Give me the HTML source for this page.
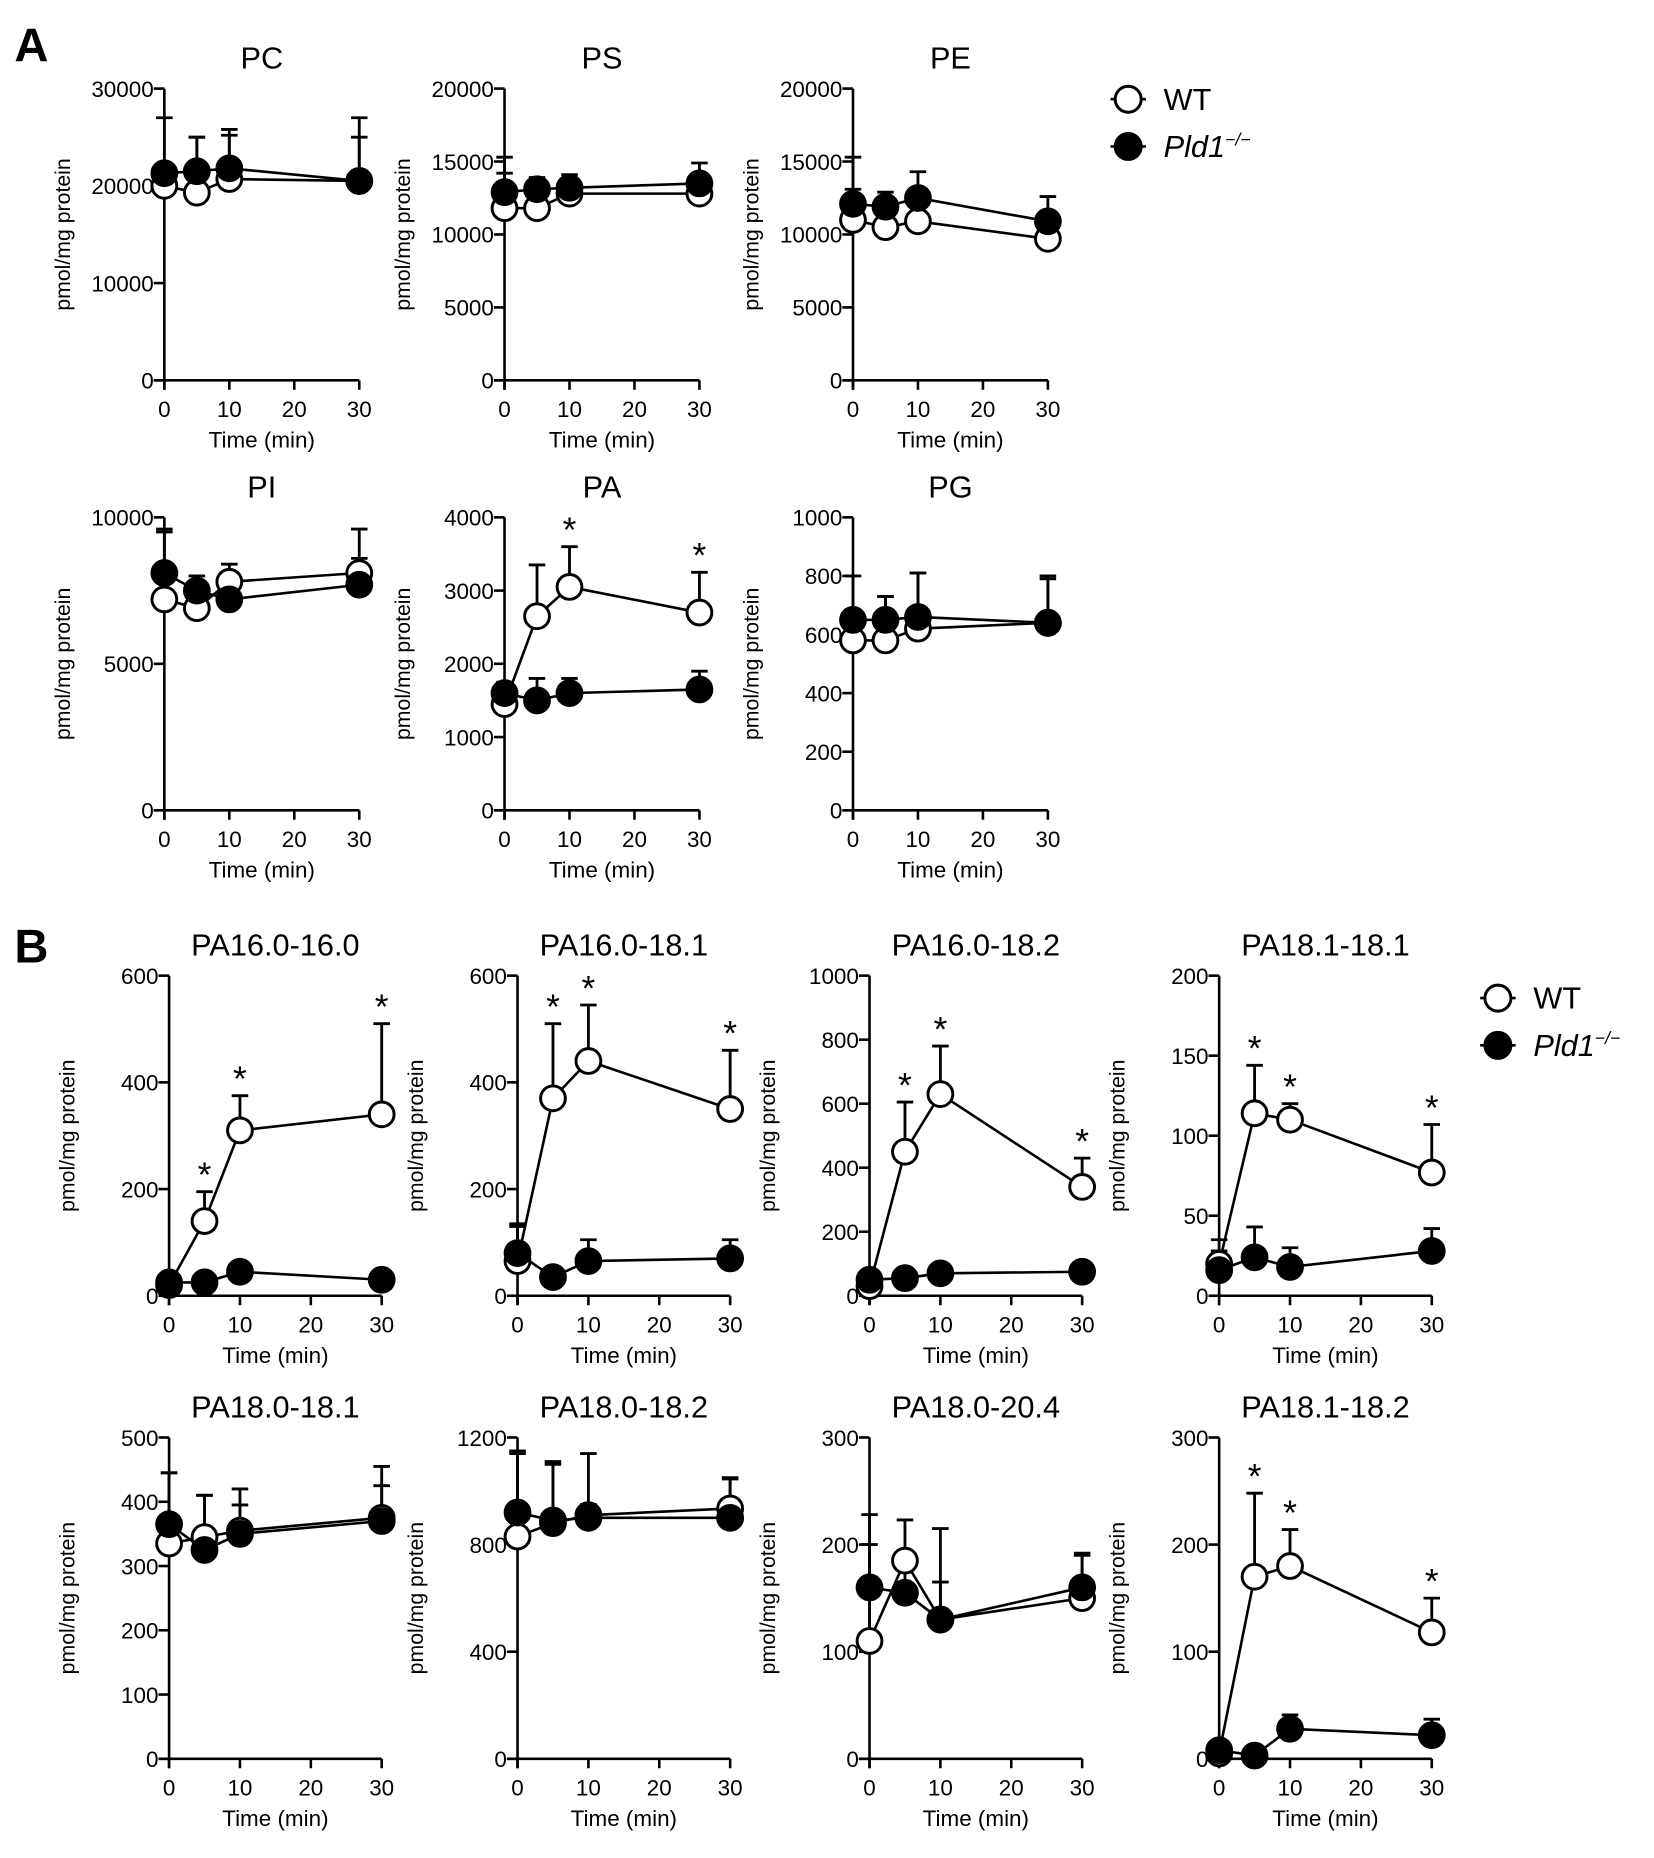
<!DOCTYPE html>
<html><head><meta charset="utf-8"><style>
html,body{margin:0;padding:0;background:#fff;}
svg{display:block;font-family:"Liberation Sans",Arial,sans-serif;}
</style></head><body>
<svg id="fig" width="1654" height="1858" viewBox="0 0 1400 1573" xmlns="http://www.w3.org/2000/svg">
<text x="12" y="52" font-size="40" font-weight="bold">A</text>
<text x="12" y="815" font-size="40" font-weight="bold">B</text>
</svg>
<script>
const times = [0, 5, 10, 30];
const titles = ["PC","PS","PE","PI","PA","PG","PA16.0-16.0","PA16.0-18.1","PA16.0-18.2","PA18.1-18.1","PA18.0-18.1","PA18.0-18.2","PA18.0-20.4","PA18.1-18.2"];
const yMaxes = [30000,20000,20000,10000,4000,1000,600,600,1000,200,500,1200,300,300];
const yStepsArr = [10000,5000,5000,5000,1000,200,200,200,200,50,100,400,100,100];
const wtVals = [
[20000,19300,20700,20500],[11800,11800,12800,12800],[11000,10500,10900,9700],
[7200,6900,7800,8100],[1450,2650,3050,2700],[580,580,620,640],
[20,140,310,340],[65,370,440,350],[30,450,630,340],[20,114,110,77],
[335,345,355,375],[830,880,910,935],[110,185,130,150],[5,170,180,118]];
const wtErr = [
[7000,5700,5100,6500],[3500,400,500,300],[4300,500,400,700],
[2300,600,600,1500],[300,700,550,550],[100,150,190,160],
[20,55,65,170],[70,140,105,110],[40,155,150,90],[15,30,10,30],
[110,65,65,80],[310,220,230,110],[118,38,85,40],[5,78,34,32]];
const koVals = [
[21300,21500,21800,20500],[12900,13100,13200,13500],[12100,11900,12500,10900],
[8100,7500,7200,7700],[1600,1500,1600,1650],[650,650,660,640],
[25,25,45,30],[80,35,65,70],[50,55,70,75],[16,24,18,28],
[365,325,350,370],[920,890,900,900],[160,155,130,160],[8,3,28,22]];
const koErr = [
[600,3500,3400,4500],[1300,800,900,1400],[1000,1000,1800,1700],
[1500,500,300,900],[100,300,200,250],[150,80,150,150],
[10,5,10,5],[50,15,40,35],[20,10,10,10],[12,19,12,14],
[80,85,45,55],[230,220,50,150],[40,30,35,32],[5,3,13,15]];
const stars = [[],[],[],[],[10,30],[],[5,10,30],[5,10,30],[5,10,30],[5,10,30],[],[],[],[5,10,30]];

const layout = [
 [139,322,75],[427,322,75],[722,322,75],
 [139,686,438],[427,686,438],[722,686,438],
 [143,1097,826],[438,1097,826],[736,1097,826],[1032,1097,826],
 [143,1489,1217],[438,1489,1217],[736,1489,1217],[1032,1489,1217]];
const PW = 165, PWB = 180;
const NS = "http://www.w3.org/2000/svg";
const svg = document.getElementById('fig');
function mk(tag, attrs, parent, text){
  const e = document.createElementNS(NS, tag);
  for (const k in attrs) e.setAttribute(k, attrs[k]);
  if (text !== undefined) e.textContent = text;
  (parent||svg).appendChild(e); return e;
}
titles.forEach((t, i) => {
  const [x0, y0, yt] = layout[i];
  const w = i < 6 ? PW : PWB;
  const xs = v => x0 + v / 30 * w;
  const ys = v => y0 - v / yMaxes[i] * (y0 - yt);
  const g = mk('g', {});
  
  
  const tt = mk('text', {x: x0 + w/2, y: yt - 17, 'font-size': 26, 'text-anchor': 'middle'}, g, t);
  
  
  const ax = mk('g', {stroke: '#000', 'stroke-width': 2.2, fill: 'none'}, g);
  
  
  mk('line', {x1: x0, y1: yt, x2: x0, y2: y0 + 8}, ax);
  mk('line', {x1: x0 - 9, y1: y0, x2: xs(30), y2: y0}, ax);
  for (let v = 0; v <= yMaxes[i] + 1e-9; v += yStepsArr[i]) {
    mk('line', {x1: x0 - 9, y1: ys(v), x2: x0, y2: ys(v)}, ax);
    const l = mk('text', {x: x0 - 9, y: ys(v) + 7, 'font-size': 19, 'text-anchor': 'end'}, g, String(v));
    
    
  }
  [0,10,20,30].forEach(v => {
    mk('line', {x1: xs(v), y1: y0, x2: xs(v), y2: y0 + 8}, ax);
    const l = mk('text', {x: xs(v), y: y0 + 31, 'font-size': 19, 'text-anchor': 'middle'}, g, String(v));
    
    
  });
  const xt = mk('text', {x: x0 + w/2, y: y0 + 57, 'font-size': 19, 'text-anchor': 'middle'}, g, 'Time (min)');
  
  
  const yl = mk('text', {x: 0, y: 0, 'font-size': 18, 'text-anchor': 'middle', transform: `translate(${x0-80},${(y0+yt)/2}) rotate(-90)`}, g, 'pmol/mg protein');
  
  
  const series = [[wtVals[i], wtErr[i], '#fff', 'wt'], [koVals[i], koErr[i], '#000', 'pld1']];
  series.forEach(([vals, errs, fill, nm]) => {
    const ln = mk('polyline', {points: vals.map((v, j) => xs(times[j]) + ',' + ys(v)).join(' '), fill: 'none', stroke: '#000', 'stroke-width': 2.2}, g);
    
    
  });
  series.forEach(([vals, errs, fill, nm]) => {
    vals.forEach((v, j) => {
      const x = xs(times[j]), top = ys(v + errs[j]);
      const e = mk('path', {d: `M${x},${ys(v)}V${top}M${x-7},${top}H${x+7}`, stroke: '#000', 'stroke-width': 2.4, fill: 'none'}, g);
      
      
    });
  });
  series.forEach(([vals, errs, fill, nm]) => {
    vals.forEach((v, j) => {
      const c = mk('circle', {cx: xs(times[j]), cy: ys(v), r: 10.5, fill: fill, stroke: '#000', 'stroke-width': 2.5}, g);
      
      
    });
  });
  stars[i].forEach(tm => {
    const j = times.indexOf(tm);
    const top = ys(wtVals[i][j] + wtErr[i][j]);
    const s = mk('text', {x: xs(tm), y: top - 4, 'font-size': 30, 'text-anchor': 'middle'}, g, '*');
    
    
  });
});
[[955,84],[1268,845]].forEach(([lx, ly], k) => {
  const g = mk('g', {});
  
  
  [['#fff','WT','normal'],['#000','Pld1','italic']].forEach(([f, lab, st], r) => {
    const y = ly + r * 40;
    mk('line', {x1: lx - 15, y1: y, x2: lx + 15, y2: y, stroke: '#000', 'stroke-width': 2.2}, g);
    mk('circle', {cx: lx, cy: y, r: 11, fill: f, stroke: '#000', 'stroke-width': 2.5}, g);
    const t = mk('text', {x: lx + 30, y: y + 9, 'font-size': 26, 'font-style': st}, g, lab);
    
    
    if (r) { mk('tspan', {dy: -10, 'font-size': 15}, t, '\u2212/\u2212'); }
  });
});
</script>
</body></html>
